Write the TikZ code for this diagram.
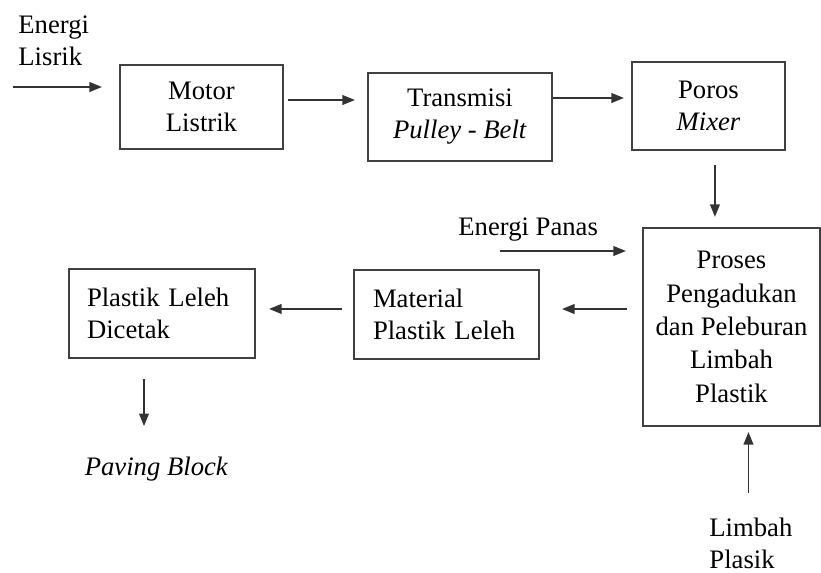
\documentclass[tikz,border=0pt]{standalone}
\usepackage{fontspec}
\setmainfont{Liberation Serif}
\usetikzlibrary{arrows.meta}

\begin{document}
\begin{tikzpicture}[x=0.45pt,y=-0.45pt,>={Triangle[length=5.6pt,width=4.4pt]},every node/.style={font=\fontsize{12}{14.4}\selectfont},
  box/.style={draw=black!75,line width=1pt,inner sep=0pt},
  flow/.style={->,line width=0.6pt,draw=black!80,fill=black}]
\useasboundingbox (0,0) rectangle (821,572);
\node[box,align=center,minimum width=73.35pt,minimum height=37.8pt] (motor) at (201.5,107) {Motor\\Listrik};
\node[box,align=center,minimum width=82.8pt,minimum height=39.6pt] (trans) at (460,117) {Transmisi\\\textit{Pulley - Belt}};
\node[box,align=center,minimum width=68.85pt,minimum height=39.6pt] (poros) at (708.5,106) {Poros\\\textit{Mixer}};
\node[box,align=center,minimum width=79.65pt,minimum height=89.1pt,font=\fontsize{12}{15}\selectfont] (proses) at (731.5,327) {Proses\\Pengadukan\\dan Peleburan\\Limbah\\Plastik};
\node[box,align=left,inner xsep=8.55pt,text width=66.15pt,minimum height=40.05pt] (material) at (446.5,314.5) {Material\\Plastik Leleh};
\node[box,align=left,inner xsep=8.1pt,text width=67.5pt,minimum height=40.05pt] (cetak) at (162,313.5) {Plastik Leleh\\Dicetak};
\node[align=left,anchor=north west,inner sep=0pt] (lisrik) at (18,15) {Energi\\Lisrik};
\node[anchor=base west,inner sep=0pt] (panas) at (458,235) {Energi Panas};
\node[anchor=base,inner sep=0pt] (paving) at (156.5,475) {\textit{Paving Block}};
\node[align=left,anchor=north west,inner sep=0pt] (limbah) at (709,518) {Limbah\\Plasik};
\coordinate (el) at (13,87);
\coordinate (ep) at (500,251);
\draw[flow,shorten >=7.65pt] (el) -- (el -| motor.west);
\draw[flow,shorten <=1.8pt,shorten >=5.4pt] ([yshift=3.15pt]motor.east) -- ([yshift=3.15pt]motor.east -| trans.west);
\draw[flow,shorten >=3.15pt] ([yshift=8.55pt]trans.east) -- ([yshift=8.55pt]trans.east -| poros.west);
\draw[flow,shorten <=6.3pt,shorten >=4.5pt] ([xshift=2.9pt]poros.south) -- ([xshift=2.9pt]poros.south |- proses.north);
\draw[flow,shorten >=7.2pt] (ep) -- (ep -| proses.west);
\draw[flow,shorten <=6.75pt,shorten >=9.9pt] ([yshift=8.1pt]proses.west) -- ([yshift=8.1pt]proses.west -| material.east);
\draw[flow,shorten <=4.95pt,shorten >=5.85pt] ([yshift=2.5pt]material.west) -- ([yshift=2.5pt]material.west -| cetak.east);
\draw[flow,shorten <=9pt,shorten >=13.5pt] ([xshift=-8.1pt]cetak.south) -- ([xshift=-8.1pt]cetak.south |- paving.north);
\draw[flow,shorten <=11.25pt,shorten >=2.25pt] ([xshift=-1.1pt]limbah.north) -- ([xshift=-1.1pt]limbah.north |- proses.south);
\end{tikzpicture}
\end{document}
